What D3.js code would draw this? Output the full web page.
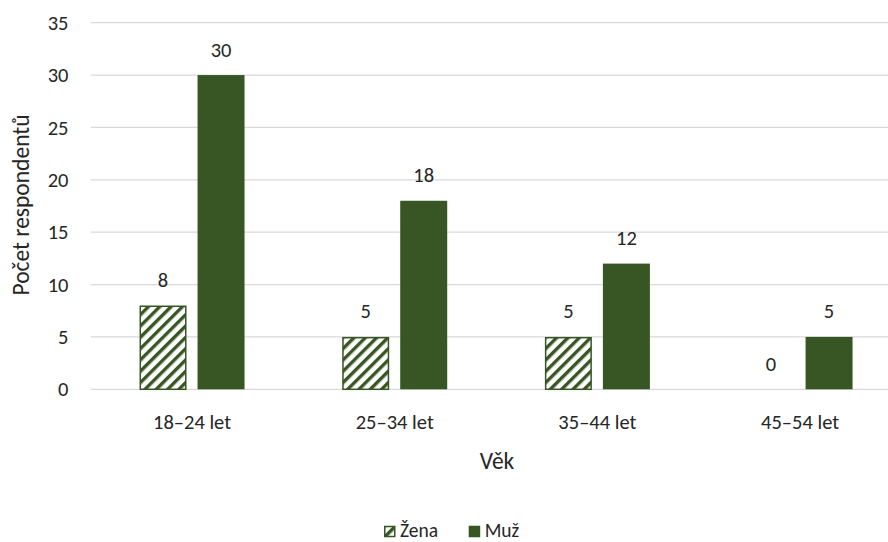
<!DOCTYPE html>
<html>
<head>
<meta charset="utf-8">
<script src="https://cdn.jsdelivr.net/npm/d3@7"></script>
<style>
  html, body { margin: 0; padding: 0; background: #fff; }
  svg { display: block; font-family: Carlito, Lato, "Open Sans", sans-serif; }
</style>
</head>
<body>
<svg id="chart" width="888" height="542"></svg>
<script>
// Age groups and respondent counts by gender
const categories = ["18–24 let", "25–34 let", "35–44 let", "45–54 let"];
const series = ["Žena", "Muž"];
const zenaValues = [8, 5, 5, 0];
const muzValues = [30, 18, 12, 5];
const yTicks = [0, 5, 10, 15, 20, 25, 30, 35];

const green = "#375623";
const textColor = "#262626";
const labelSize = 20.5;
const titleSize = 23.5;
const legendSize = 19.5;

const svg = d3.select("#chart");

// Plot area
const plot = { left: 90.7, right: 901.4, top: 22.7, bottom: 389.3 };

const defs = svg.append("defs");
// Wide upward-diagonal hatch for the "Žena" series
const pat = defs.append("pattern")
  .attr("id", "hatch")
  .attr("patternUnits", "userSpaceOnUse")
  .attr("width", 8).attr("height", 8)
  .attr("patternTransform", "rotate(45)");
pat.append("rect").attr("width", 8).attr("height", 8).attr("fill", "#fff");
pat.append("rect").attr("x", 0).attr("y", 0).attr("width", 3.4).attr("height", 8).attr("fill", green);

const x0 = d3.scaleBand().domain(categories).range([plot.left, plot.right]).padding(0);
const groupW = 105;
const x1 = d3.scaleBand().domain(series)
  .range([(x0.step() - groupW) / 2, (x0.step() + groupW) / 2])
  .paddingInner(0.19).paddingOuter(0);
const y = d3.scaleLinear().domain([0, 35]).range([plot.bottom, plot.top]);

// Gridlines
svg.append("g")
  .selectAll("line")
  .data(yTicks)
  .join("line")
  .attr("x1", plot.left).attr("x2", plot.right)
  .attr("y1", d => y(d)).attr("y2", d => y(d))
  .attr("stroke", "#d9d9d9").attr("stroke-width", 1.3);

// Y axis tick labels
const yAxis = d3.axisLeft(y).tickValues(yTicks).tickSize(0).tickPadding(0);
const gy = svg.append("g").attr("transform", `translate(68.5,0)`).call(yAxis);
gy.select(".domain").remove();
gy.selectAll("text")
  .attr("font-size", labelSize).attr("fill", textColor)
  .style("font-family", "Carlito, Lato, 'Open Sans', sans-serif");

// X axis labels
const xAxis = d3.axisBottom(x0).tickSize(0).tickPadding(0);
const gx = svg.append("g").attr("transform", `translate(0,${plot.bottom + 25})`).call(xAxis);
gx.select(".domain").remove();
gx.selectAll("text")
  .attr("font-size", labelSize).attr("fill", textColor)
  .style("font-family", "Carlito, Lato, 'Open Sans', sans-serif");

// Bars
const rows = categories.map((c, i) => ({ cat: c, values: [zenaValues[i], muzValues[i]] }));
const groups = svg.append("g").selectAll("g")
  .data(rows)
  .join("g")
  .attr("transform", d => `translate(${x0(d.cat)},0)`);

groups.selectAll("rect")
  .data(d => series.map((s, j) => ({ s, v: d.values[j] })))
  .join("rect")
  .filter(d => d.v > 0)
  .attr("x", d => x1(d.s) + (d.s === "Žena" ? 0.75 : 0))
  .attr("width", d => x1.bandwidth() - (d.s === "Žena" ? 1.5 : 0))
  .attr("y", d => y(d.v) + (d.s === "Žena" ? 0.75 : 0))
  .attr("height", d => y(0) - y(d.v) - (d.s === "Žena" ? 0.75 : 0))
  .attr("fill", d => d.s === "Žena" ? "url(#hatch)" : green)
  .attr("stroke", d => d.s === "Žena" ? green : "none")
  .attr("stroke-width", 1.5);

// Value labels
groups.selectAll("text.val")
  .data(d => series.map((s, j) => ({ s, v: d.values[j] })))
  .join("text")
  .attr("class", "val")
  .attr("x", d => x1(d.s) + x1.bandwidth() / 2)
  .attr("y", d => y(d.v) - 18.5)
  .attr("text-anchor", "middle")
  .attr("font-size", labelSize)
  .attr("fill", textColor)
  .text(d => d.v);

// Axis titles
svg.append("text")
  .attr("x", 497).attr("y", 469)
  .attr("text-anchor", "middle")
  .attr("font-size", titleSize).attr("fill", textColor)
  .text("Věk");

svg.append("text")
  .attr("transform", "translate(29,205) rotate(-90)")
  .attr("text-anchor", "middle")
  .attr("font-size", titleSize).attr("fill", textColor)
  .text("Počet respondentů");

// Legend
const legend = svg.append("g").attr("transform", "translate(384,524)");
const legendItems = [
  { s: "Žena", x: 0 },
  { s: "Muž", x: 84.7 }
];
const li = legend.selectAll("g").data(legendItems).join("g")
  .attr("transform", d => `translate(${d.x},0)`);
li.append("rect")
  .attr("x", 0.75).attr("y", 2.5).attr("width", 10).attr("height", 10)
  .attr("fill", d => d.s === "Žena" ? "url(#hatch)" : green)
  .attr("stroke", green).attr("stroke-width", 1.5);
li.append("text")
  .attr("x", 16).attr("y", 13)
  .attr("font-size", legendSize).attr("fill", textColor)
  .text(d => d.s);
</script>
</body>
</html>
